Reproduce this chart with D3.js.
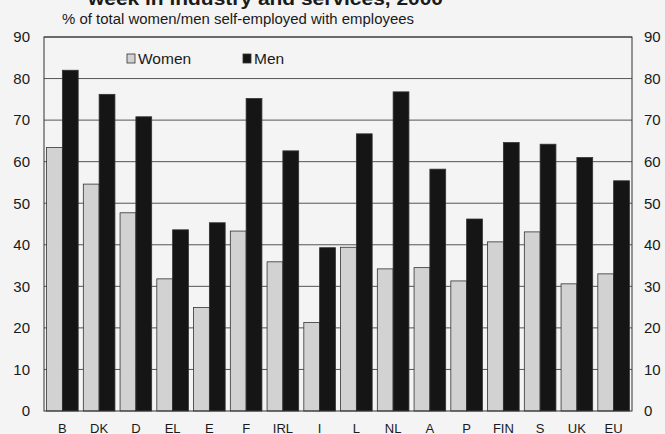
<html>
<head>
	<meta charset="utf-8">
	<script src="https://d3js.org/d3.v7.min.js"></script>
	<style>
		body { margin: 0; background: #f4f4f4; }
		text { font-family: "Liberation Sans", Arial, sans-serif; fill: #1a1a1a; }
	</style>
</head>
<body>
	<script type="text/javascript">
		var width = 665
		var height = 434

		// data
		var countries = ["B","DK","D","EL","E","F","IRL","I","L","NL","A","P","FIN","S","UK","EU"]
		var women = [63.4,54.6,47.7,31.8,24.9,43.3,35.9,21.3,39.4,34.2,34.5,31.3,40.7,43.1,30.6,33.0]
		var men   = [82.0,76.2,70.8,43.6,45.3,75.2,62.6,39.3,66.7,76.8,58.2,46.2,64.6,64.2,61.0,55.4]
		var series = ["Women","Men"]
		var yTicks = [0,10,20,30,40,50,60,70,80,90]

		var plotL = 44, plotR = 632, plotT = 37, plotB = 411

		var svg = d3.select("body").append("svg")
			.attr("width", width)
			.attr("height", height)

		svg.append("rect").attr("width", width).attr("height", height).attr("fill", "#f4f4f4")

		var scalex = d3.scaleBand().domain(countries).range([plotL, plotR]).paddingInner(0.14).paddingOuter(0.07)
		var inner = d3.scaleBand().domain(series).range([0, scalex.bandwidth()])
		var scaley = d3.scaleLinear().domain([0, 90]).range([plotB, plotT])
		var colour = d3.scaleOrdinal().domain(series).range(["#d2d2d2", "#151515"])

		// title (cut off at the top in the original)
		svg.append("text")
			.attr("x", 88).attr("y", 5)
			.attr("textLength", 355).attr("lengthAdjust", "spacingAndGlyphs")
			.style("font-size", "19px").style("font-weight", "bold")
			.text("week in industry and services, 2000")
		svg.append("text")
			.attr("x", 62).attr("y", 24)
			.attr("textLength", 352).attr("lengthAdjust", "spacingAndGlyphs")
			.style("font-size", "14px")
			.text("% of total women/men self-employed with employees")

		// gridlines
		svg.append("g").selectAll("line")
			.data(yTicks.filter(d => d > 0))
			.enter().append("line")
			.attr("x1", plotL).attr("x2", plotR)
			.attr("y1", d => scaley(d)).attr("y2", d => scaley(d))
			.attr("stroke", "#555").attr("stroke-width", 1)

		// bars
		var rows = countries.map((c, i) => ({c: c, Women: women[i], Men: men[i]}))
		var groups = svg.append("g").selectAll("g")
			.data(rows).enter().append("g")
			.attr("transform", d => "translate(" + scalex(d.c) + ",0)")
		groups.selectAll("rect")
			.data(d => series.map(s => ({s: s, v: d[s]})))
			.enter().append("rect")
			.attr("x", d => inner(d.s))
			.attr("width", inner.bandwidth())
			.attr("y", d => scaley(d.v))
			.attr("height", d => scaley(0) - scaley(d.v))
			.attr("fill", d => colour(d.s))
			.attr("stroke", "#333").attr("stroke-width", 0.8)

		// frame
		svg.append("rect")
			.attr("x", plotL).attr("y", plotT)
			.attr("width", plotR - plotL).attr("height", plotB - plotT)
			.attr("fill", "none").attr("stroke", "#333").attr("stroke-width", 1)

		// axes
		var yLeft = d3.axisLeft(scaley).tickValues(yTicks).tickSize(0).tickPadding(14)
		var yRight = d3.axisRight(scaley).tickValues(yTicks).tickSize(0).tickPadding(12)
		var xAxis = d3.axisBottom(scalex).tickSize(0).tickPadding(13)

		var gl = svg.append("g").attr("transform", "translate(" + plotL + ",0)").call(yLeft)
		var gr = svg.append("g").attr("transform", "translate(" + plotR + ",0)").call(yRight)
		var gx = svg.append("g").attr("transform", "translate(0," + plotB + ")").call(xAxis)
		;[gl, gr, gx].forEach(g => {
			g.select(".domain").remove()
			g.selectAll("text").style("font-size", "15px").attr("fill", "#1a1a1a")
				.style("font-family", "'Liberation Sans', Arial, sans-serif")
		})
		gx.selectAll("text").style("font-size", "13px")

		// legend
		var legend = svg.append("g").selectAll("g")
			.data(series).enter().append("g")
			.attr("transform", (d, i) => "translate(" + (127 + i * 116) + ",54)")
		legend.append("rect")
			.attr("width", 8).attr("height", 9)
			.attr("fill", d => colour(d))
			.attr("stroke", "#333").attr("stroke-width", 0.8)
		legend.append("text")
			.attr("x", 11).attr("y", 10)
			.style("font-size", "15.5px")
			.text(d => d)
	</script>
</body>
</html>
